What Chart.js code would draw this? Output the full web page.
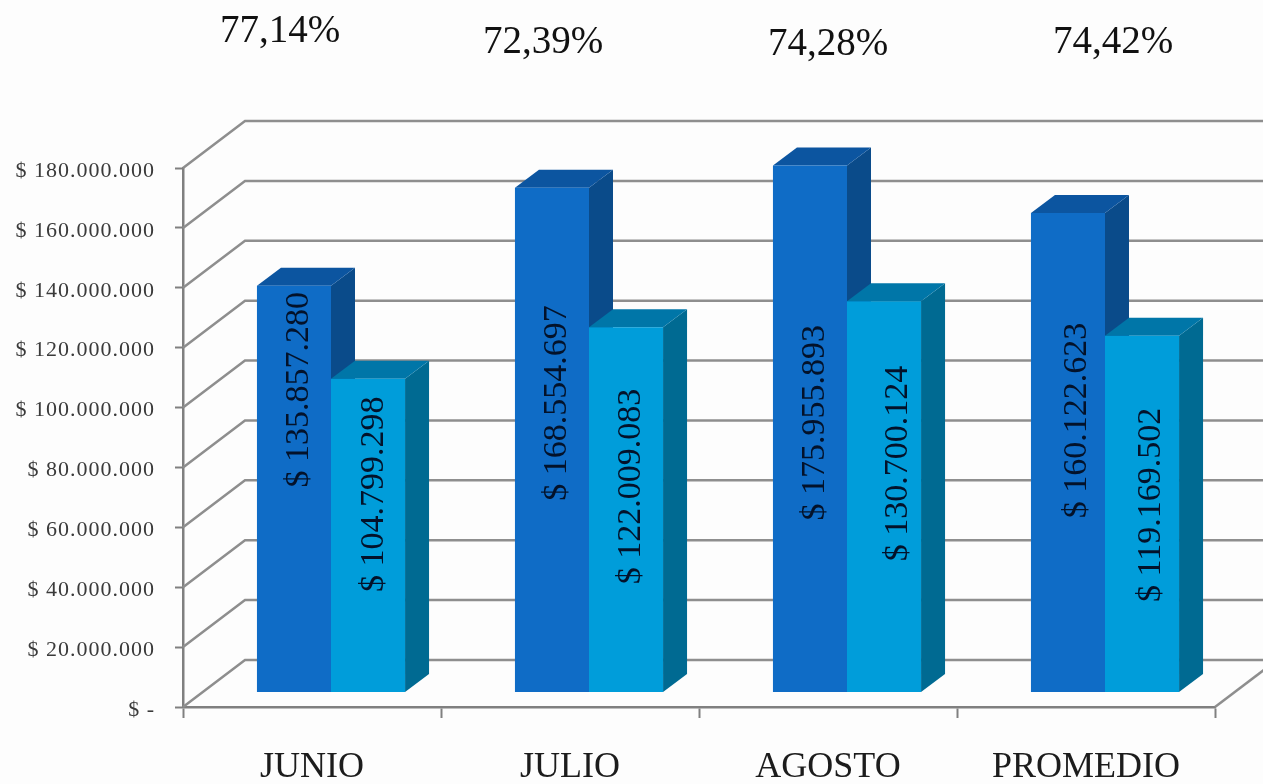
<!DOCTYPE html>
<html>
<head>
<meta charset="utf-8">
<title>Cumplimiento</title>
<script src="https://cdn.jsdelivr.net/npm/chart.js@4"></script>
<style>
  html, body { margin: 0; padding: 0; background: #fdfdfd; overflow: hidden; }
  canvas { display: block; }
</style>
</head>
<body>
<canvas id="chart" width="1263" height="784"></canvas>
<script>
const months = ["JUNIO", "JULIO", "AGOSTO", "PROMEDIO"];
const firstSeries = [135857280, 168554697, 175955893, 160122623];
const secondSeries = [104799298, 122009083, 130700124, 119169502];
const firstLabels = ["$ 135.857.280", "$ 168.554.697", "$ 175.955.893", "$ 160.122.623"];
const secondLabels = ["$ 104.799.298", "$ 122.009.083", "$ 130.700.124", "$ 119.169.502"];
const percents = ["77,14%", "72,39%", "74,28%", "74,42%"];
const yTickLabels = [
  "$ -", "$ 20.000.000", "$ 40.000.000", "$ 60.000.000", "$ 80.000.000",
  "$ 100.000.000", "$ 120.000.000", "$ 140.000.000", "$ 160.000.000", "$ 180.000.000",
];

// fake 3d: how far the back wall and the bars sit from the front axes
const WALL_DX = 62;
const WALL_DY = -47;
const BAR_DX = 19;
const BAR_DY = -14.5;
const DEPTH_DX = 24;
const DEPTH_DY = -18;

const SERIF = "'Liberation Serif', serif";
const faces = [
  { top: "#0c55a0", side: "#0a4b8a" },
  { top: "#0076a8", side: "#006a92" },
];

// the labels were placed by hand in the original, offsets are from the bar centre
const labelNudge = [
  [[5, -99], [5, -37], [5, -6], [9, -32]],
  [[6, -41], [5, -23], [14, -33], [9, -9]],
];
const percentNudgeX = [-32, -27, 0, 27];
const percentY = [32, 43, 45, 43];

function poly(ctx, color, pts) {
  ctx.fillStyle = color;
  ctx.beginPath();
  ctx.moveTo(pts[0][0], pts[0][1]);
  pts.slice(1).forEach((p) => ctx.lineTo(p[0], p[1]));
  ctx.closePath();
  ctx.fill();
}

const fake3d = {
  id: "fake3d",
  beforeDatasetsDraw(chart) {
    const ctx = chart.ctx;
    const { left, right, bottom } = chart.chartArea;
    const yScale = chart.scales.y;

    // side wall, back wall and floor lines
    ctx.save();
    ctx.strokeStyle = "#8e8e8e";
    ctx.lineWidth = 2.5;
    yScale.ticks.forEach((tick) => {
      const y = yScale.getPixelForValue(tick.value);
      ctx.beginPath();
      ctx.moveTo(left, y);
      ctx.lineTo(left + WALL_DX, y + WALL_DY);
      ctx.lineTo(chart.width, y + WALL_DY);
      ctx.stroke();
    });
    ctx.beginPath();
    ctx.moveTo(right, bottom);
    ctx.lineTo(right + WALL_DX, bottom + WALL_DY);
    ctx.stroke();

    // y labels by hand, the scale cannot push them below the tick
    ctx.fillStyle = "#3a3a3a";
    ctx.font = "22px " + SERIF;
    ctx.letterSpacing = "1px";
    ctx.textAlign = "right";
    ctx.textBaseline = "middle";
    yScale.ticks.forEach((tick, i) => {
      ctx.fillText(yTickLabels[i], 155, yScale.getPixelForValue(tick.value) + 3);
    });
    ctx.restore();

    // stays translated until afterDatasetsDraw so the bars move with their faces
    ctx.save();
    ctx.translate(BAR_DX, BAR_DY);
    chart.data.datasets.forEach((ds, d) => {
      chart.getDatasetMeta(d).data.forEach((bar) => {
        const l = bar.x - bar.width / 2;
        const r = bar.x + bar.width / 2;
        poly(ctx, faces[d].side, [
          [r, bar.y], [r + DEPTH_DX, bar.y + DEPTH_DY],
          [r + DEPTH_DX, bar.base + DEPTH_DY], [r, bar.base],
        ]);
        poly(ctx, faces[d].top, [
          [l, bar.y], [l + DEPTH_DX, bar.y + DEPTH_DY],
          [r + DEPTH_DX, bar.y + DEPTH_DY], [r, bar.y],
        ]);
      });
    });
  },
  afterDatasetsDraw(chart) {
    const ctx = chart.ctx;
    const texts = [firstLabels, secondLabels];

    // vertical value labels, still in the translated space
    ctx.fillStyle = "#03122a";
    ctx.font = "34px " + SERIF;
    ctx.textAlign = "center";
    ctx.textBaseline = "middle";
    chart.data.datasets.forEach((ds, d) => {
      chart.getDatasetMeta(d).data.forEach((bar, i) => {
        ctx.save();
        ctx.translate(bar.x + labelNudge[d][i][0], (bar.y + bar.base) / 2 + labelNudge[d][i][1]);
        ctx.rotate(-Math.PI / 2);
        ctx.fillText(texts[d][i], 0, 0);
        ctx.restore();
      });
    });
    ctx.restore();

    ctx.save();
    ctx.fillStyle = "#111111";
    ctx.font = "39px " + SERIF;
    ctx.textAlign = "center";
    ctx.textBaseline = "middle";
    percents.forEach((text, i) => {
      ctx.fillText(text, chart.scales.x.getPixelForValue(i) + percentNudgeX[i], percentY[i]);
    });
    ctx.restore();
  },
};

new Chart(document.getElementById("chart"), {
  type: "bar",
  data: {
    labels: months,
    datasets: [
      { data: firstSeries, backgroundColor: "#0f6cc6" },
      { data: secondSeries, backgroundColor: "#009dda" },
    ],
  },
  options: {
    responsive: false,
    animation: false,
    devicePixelRatio: 1,
    layout: { padding: { top: 168, right: 48 } },
    datasets: { bar: { barPercentage: 1, categoryPercentage: 0.574 } },
    plugins: { legend: { display: false }, tooltip: { enabled: false } },
    scales: {
      x: {
        afterFit: (scale) => { scale.height = 77; },
        border: { color: "#808080", width: 2.5 },
        grid: { drawOnChartArea: false, tickLength: 11, tickColor: "#808080", tickWidth: 2 },
        ticks: {
          color: "#1c1c1c",
          font: { family: SERIF, size: 36 },
          padding: 28,
          maxRotation: 0,
          autoSkip: false,
        },
      },
      y: {
        min: 0,
        max: 180000000,
        afterFit: (scale) => { scale.width = 183; },
        border: { color: "#808080", width: 2.5 },
        grid: { drawOnChartArea: false, tickLength: 8, tickColor: "#808080", tickWidth: 2 },
        ticks: { stepSize: 20000000, display: false },
      },
    },
  },
  plugins: [fake3d],
});
</script>
</body>
</html>
